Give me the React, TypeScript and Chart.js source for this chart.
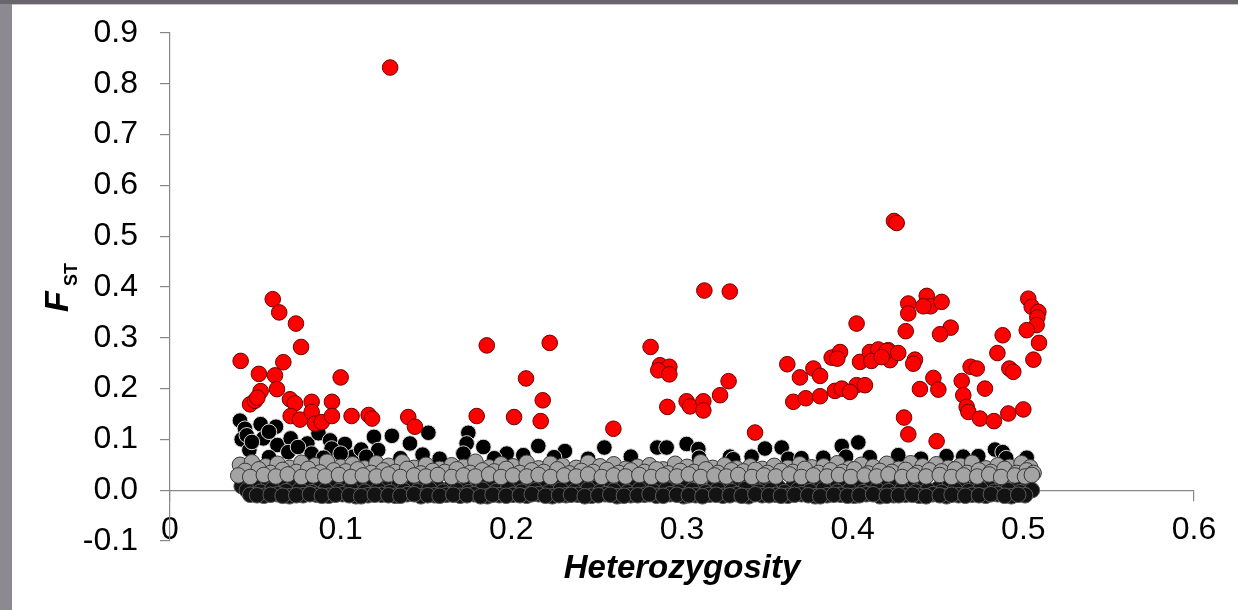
import React, { useEffect, useRef } from "react";
import { Chart, registerables } from "chart.js";

Chart.register(...registerables);

// ---------- data (heterozygosity, FST) ----------
const xTickValues = [0, 0.1, 0.2, 0.3, 0.4, 0.5, 0.6];
const yMin = -0.1;
const yMax = 0.9;
const xTitle = "Heterozygosity";
const yTitleMain = "F";
const yTitleSub = "ST";

// outlier loci (red)
const redPoints: [number, number][] = [
  [0.129, 0.832],
  [0.0602, 0.376], [0.064, 0.35], [0.0738, 0.328], [0.0768, 0.282], [0.0414, 0.2545], [0.0664, 0.252],
  [0.0521, 0.229], [0.0615, 0.226], [0.1, 0.222], [0.0531, 0.195], [0.0627, 0.199], [0.0469, 0.169],
  [0.0498, 0.176], [0.0512, 0.182], [0.0703, 0.179], [0.0732, 0.171], [0.083, 0.174], [0.0949, 0.174],
  [0.0707, 0.146], [0.0762, 0.139], [0.083, 0.154], [0.085, 0.131], [0.0889, 0.134], [0.0949, 0.146],
  [0.1064, 0.146], [0.1164, 0.148], [0.1184, 0.141], [0.1396, 0.144], [0.1435, 0.125],
  [0.1856, 0.285], [0.2225, 0.29], [0.2086, 0.22], [0.2184, 0.177], [0.1797, 0.146], [0.2016, 0.144],
  [0.2172, 0.136], [0.2598, 0.121],
  [0.2816, 0.282], [0.2871, 0.246], [0.2926, 0.243], [0.2861, 0.236], [0.2926, 0.228], [0.3273, 0.2146],
  [0.3223, 0.187], [0.2914, 0.164], [0.3027, 0.175], [0.3047, 0.165], [0.3125, 0.175], [0.3125, 0.157],
  [0.3428, 0.1135],
  [0.3131, 0.393], [0.328, 0.391], [0.4023, 0.328],
  [0.3617, 0.248], [0.377, 0.2395], [0.3809, 0.225], [0.3691, 0.222], [0.3652, 0.174], [0.3725, 0.181],
  [0.3809, 0.185], [0.3877, 0.261], [0.3926, 0.272], [0.391, 0.259], [0.3896, 0.1955], [0.3936, 0.2],
  [0.4023, 0.2067], [0.4072, 0.2067], [0.3984, 0.1935], [0.4043, 0.2526], [0.4111, 0.256], [0.416, 0.272],
  [0.4209, 0.2756], [0.4219, 0.256],
  [0.4242, 0.53], [0.4258, 0.526],
  [0.4326, 0.3675], [0.4326, 0.348], [0.4434, 0.3825], [0.4457, 0.362], [0.4521, 0.3707], [0.4414, 0.362],
  [0.4311, 0.313], [0.4574, 0.32], [0.4512, 0.307],
  [0.5029, 0.377], [0.5049, 0.361], [0.5088, 0.351], [0.5082, 0.34], [0.5078, 0.325], [0.502, 0.315],
  [0.4879, 0.305], [0.5092, 0.29], [0.4848, 0.27], [0.5059, 0.257], [0.4691, 0.243], [0.4727, 0.2395],
  [0.4918, 0.2395], [0.4941, 0.233],
  [0.4101, 0.272], [0.415, 0.277], [0.42, 0.274], [0.4267, 0.27], [0.411, 0.2545], [0.417, 0.262],
  [0.4365, 0.257], [0.4355, 0.249], [0.4473, 0.221], [0.4639, 0.215],
  [0.4301, 0.143], [0.4326, 0.11], [0.4492, 0.0965], [0.4394, 0.199], [0.4502, 0.198], [0.4648, 0.187],
  [0.4668, 0.164], [0.4678, 0.154], [0.4746, 0.141], [0.4828, 0.136], [0.4912, 0.151], [0.5, 0.159],
  [0.4775, 0.2],
];

// loci above the neutral cloud (black)
const blackPoints: [number, number][] = [
  [0.041, 0.137], [0.0439, 0.121], [0.0531, 0.13], [0.0621, 0.125], [0.042, 0.1], [0.0547, 0.102],
  [0.0629, 0.089], [0.0707, 0.102], [0.0805, 0.092], [0.087, 0.112], [0.0938, 0.098], [0.1025, 0.091],
  [0.1195, 0.105], [0.13, 0.107], [0.122, 0.079], [0.1406, 0.092], [0.1514, 0.113], [0.0465, 0.079],
  [0.0693, 0.075], [0.0947, 0.082], [0.158, 0.062], [0.1074, 0.066], [0.045, 0.108], [0.1748, 0.113],
  [0.1738, 0.092], [0.1836, 0.085], [0.1973, 0.072], [0.1719, 0.072], [0.048, 0.095], [0.058, 0.115],
  [0.075, 0.085], [0.083, 0.072], [0.1, 0.072], [0.112, 0.08],
  [0.2158, 0.087], [0.2314, 0.077], [0.2545, 0.084], [0.2855, 0.084], [0.291, 0.084], [0.3027, 0.091],
  [0.3096, 0.081], [0.3281, 0.066], [0.3408, 0.066], [0.207, 0.069],
  [0.3486, 0.082], [0.3584, 0.084], [0.3623, 0.062], [0.3828, 0.064], [0.3936, 0.087], [0.4033, 0.094],
  [0.3961, 0.066], [0.4267, 0.069], [0.4736, 0.067], [0.4834, 0.08], [0.4879, 0.075], [0.502, 0.064],
  [0.4648, 0.066],
  [0.058, 0.065], [0.09, 0.064], [0.115, 0.066], [0.135, 0.063], [0.148, 0.07], [0.19, 0.063],
  [0.225, 0.065], [0.245, 0.062], [0.27, 0.066], [0.31, 0.064], [0.33, 0.061], [0.37, 0.063],
  [0.41, 0.065], [0.44, 0.062], [0.455, 0.067], [0.49, 0.063],
];

// neutral loci (grey)
const grayPoints: [number, number][] = [
  [0.041, 0.05], [0.048, 0.055], [0.056, 0.047], [0.063, 0.052], [0.07, 0.044], [0.077, 0.054],
  [0.085, 0.049], [0.092, 0.056], [0.1, 0.046], [0.107, 0.051], [0.114, 0.043], [0.121, 0.053],
  [0.128, 0.048], [0.136, 0.055], [0.143, 0.044], [0.15, 0.05], [0.158, 0.042], [0.165, 0.049],
  [0.172, 0.046], [0.179, 0.056], [0.187, 0.045], [0.194, 0.051], [0.201, 0.047], [0.209, 0.054],
  [0.216, 0.043], [0.223, 0.052], [0.23, 0.048], [0.238, 0.044], [0.245, 0.054], [0.252, 0.047],
  [0.26, 0.051], [0.267, 0.042], [0.274, 0.046], [0.281, 0.049], [0.289, 0.041], [0.296, 0.052],
  [0.303, 0.046], [0.311, 0.055], [0.318, 0.044], [0.325, 0.049], [0.332, 0.043], [0.34, 0.047],
  [0.347, 0.042], [0.354, 0.048], [0.362, 0.044], [0.369, 0.051], [0.376, 0.045], [0.383, 0.047],
  [0.391, 0.053], [0.398, 0.043], [0.405, 0.05], [0.412, 0.046], [0.42, 0.052], [0.427, 0.042],
  [0.434, 0.053], [0.441, 0.047], [0.449, 0.051], [0.456, 0.044], [0.463, 0.048], [0.47, 0.054],
  [0.478, 0.043], [0.485, 0.049], [0.492, 0.046], [0.499, 0.053], [0.504, 0.045],
  [0.044, 0.038], [0.052, 0.041], [0.059, 0.034], [0.066, 0.04], [0.074, 0.036], [0.081, 0.042],
  [0.088, 0.035], [0.096, 0.039], [0.103, 0.037], [0.11, 0.041], [0.118, 0.034], [0.125, 0.039],
  [0.132, 0.036], [0.139, 0.042], [0.147, 0.033], [0.154, 0.038], [0.161, 0.036], [0.168, 0.041],
  [0.176, 0.034], [0.183, 0.039], [0.19, 0.037], [0.197, 0.042], [0.205, 0.034], [0.212, 0.039],
  [0.219, 0.036], [0.227, 0.041], [0.234, 0.033], [0.241, 0.038], [0.248, 0.036], [0.256, 0.04],
  [0.263, 0.034], [0.27, 0.039], [0.278, 0.036], [0.285, 0.041], [0.292, 0.033], [0.299, 0.038],
  [0.307, 0.036], [0.314, 0.041], [0.321, 0.034], [0.329, 0.039], [0.336, 0.037], [0.343, 0.04],
  [0.35, 0.034], [0.358, 0.038], [0.365, 0.036], [0.372, 0.042], [0.38, 0.034], [0.387, 0.039],
  [0.394, 0.036], [0.401, 0.041], [0.409, 0.033], [0.416, 0.038], [0.423, 0.036], [0.431, 0.04],
  [0.438, 0.034], [0.445, 0.039], [0.452, 0.037], [0.46, 0.041], [0.467, 0.034], [0.474, 0.039],
  [0.481, 0.036], [0.489, 0.042], [0.496, 0.034], [0.502, 0.039], [0.506, 0.034],
  [0.04, 0.029], [0.047, 0.026], [0.055, 0.03], [0.062, 0.027], [0.069, 0.031], [0.077, 0.026],
  [0.084, 0.029], [0.091, 0.027], [0.099, 0.03], [0.106, 0.026], [0.113, 0.029], [0.121, 0.027],
  [0.128, 0.031], [0.135, 0.026], [0.143, 0.029], [0.15, 0.027], [0.157, 0.03], [0.165, 0.026],
  [0.172, 0.029], [0.179, 0.027], [0.187, 0.031], [0.194, 0.026], [0.201, 0.029], [0.209, 0.027],
  [0.216, 0.03], [0.223, 0.026], [0.231, 0.029], [0.238, 0.027], [0.245, 0.031], [0.253, 0.026],
  [0.26, 0.029], [0.267, 0.027], [0.275, 0.03], [0.282, 0.026], [0.289, 0.029], [0.297, 0.027],
  [0.304, 0.031], [0.311, 0.026], [0.319, 0.029], [0.326, 0.027], [0.333, 0.03], [0.341, 0.026],
  [0.348, 0.029], [0.355, 0.027], [0.363, 0.031], [0.37, 0.026], [0.377, 0.029], [0.385, 0.027],
  [0.392, 0.03], [0.399, 0.026], [0.407, 0.029], [0.414, 0.027], [0.421, 0.031], [0.429, 0.026],
  [0.436, 0.029], [0.443, 0.027], [0.451, 0.03], [0.458, 0.026], [0.465, 0.029], [0.473, 0.027],
  [0.48, 0.031], [0.487, 0.026], [0.495, 0.029], [0.501, 0.027], [0.505, 0.03],
];

// dense cloud of loci at FST ~ 0 (heavily overlapping, appears dark)
const lowX = [
  0.042, 0.05, 0.058, 0.065, 0.073, 0.081, 0.088, 0.096, 0.104, 0.111, 0.119, 0.127, 0.134, 0.142, 0.15,
  0.157, 0.165, 0.173, 0.181, 0.188, 0.196, 0.204, 0.211, 0.219, 0.227, 0.234, 0.242, 0.25, 0.257, 0.265,
  0.273, 0.28, 0.288, 0.296, 0.303, 0.311, 0.319, 0.327, 0.334, 0.342, 0.35, 0.357, 0.365, 0.373, 0.38,
  0.388, 0.396, 0.403, 0.411, 0.419, 0.426, 0.434, 0.442, 0.45, 0.457, 0.465, 0.473, 0.48, 0.488, 0.496,
  0.503,
  0.045, 0.053, 0.06, 0.068, 0.076, 0.083, 0.091, 0.099, 0.106, 0.114, 0.122, 0.129, 0.137, 0.145, 0.152,
  0.16, 0.168, 0.175, 0.183, 0.191, 0.198, 0.206, 0.214, 0.222, 0.229, 0.237, 0.245, 0.252, 0.26, 0.268,
  0.275, 0.283, 0.291, 0.298, 0.306, 0.314, 0.321, 0.329, 0.337, 0.345, 0.352, 0.36, 0.368, 0.375, 0.383,
  0.391, 0.398, 0.406, 0.414, 0.421, 0.429, 0.437, 0.444, 0.452, 0.46, 0.468, 0.475, 0.483, 0.491, 0.498,
  0.505,
  0.047, 0.055, 0.063, 0.07, 0.078, 0.086, 0.093, 0.101, 0.109, 0.116, 0.124, 0.132, 0.139, 0.147, 0.155,
  0.162, 0.17, 0.178, 0.186, 0.193, 0.201, 0.209, 0.216, 0.224, 0.232, 0.239, 0.247, 0.255, 0.262, 0.27,
  0.278, 0.285, 0.293, 0.301, 0.308, 0.316, 0.324, 0.332, 0.339, 0.347, 0.355, 0.362, 0.37, 0.378, 0.385,
  0.393, 0.401, 0.408, 0.416, 0.424, 0.431, 0.439, 0.447, 0.455, 0.462, 0.47, 0.478, 0.485, 0.493, 0.501,
  0.051, 0.059, 0.066, 0.074, 0.082, 0.089, 0.097, 0.105, 0.112, 0.12, 0.128, 0.135, 0.143, 0.151, 0.158,
  0.166, 0.174, 0.182, 0.189, 0.197, 0.205, 0.212, 0.22, 0.228, 0.235, 0.243, 0.251, 0.258, 0.266, 0.274,
  0.281, 0.289, 0.297, 0.304, 0.312, 0.32, 0.328, 0.335, 0.343, 0.351, 0.358, 0.366, 0.374, 0.381, 0.389,
  0.397, 0.404, 0.412, 0.42, 0.427, 0.435, 0.443, 0.451, 0.458, 0.466, 0.474, 0.481, 0.489, 0.497,
];
const lowY = [
  0.008, 0.005, 0.01, 0.006, 0.009, 0.004, 0.007, 0.005, 0.011, 0.006, 0.008, 0.004, 0.009, 0.006, 0.01,
  0.005, 0.008, 0.003, 0.009, 0.006, 0.01, 0.005, 0.007, 0.004, 0.008, 0.006, 0.011, 0.005, 0.009, 0.004,
  0.007, 0.006, 0.01, 0.005, 0.008, 0.003, 0.009, 0.006, 0.011, 0.005, 0.008, 0.004, 0.007, 0.006, 0.01,
  0.005, 0.009, 0.004, 0.008, 0.006, 0.01, 0.005, 0.007, 0.003, 0.009, 0.006, 0.011, 0.005, 0.008, 0.004,
  0.007,
  0.0, -0.003, 0.002, -0.002, 0.001, -0.004, 0.0, -0.002, 0.002, -0.003, 0.001, -0.004, -0.001, -0.002,
  0.002, -0.003, 0.0, -0.004, 0.001, -0.002, 0.002, -0.003, 0.0, -0.004, 0.001, -0.002, 0.002, -0.003,
  -0.001, -0.004, 0.001, -0.002, 0.002, -0.003, 0.0, -0.004, 0.001, -0.002, 0.002, -0.003, 0.0, -0.004,
  0.001, -0.002, 0.002, -0.003, -0.001, -0.004, 0.001, -0.002, 0.002, -0.003, 0.0, -0.004, 0.001, -0.002,
  0.002, -0.003, 0.0, -0.004, 0.0,
  -0.009, -0.011, -0.008, -0.012, -0.01, -0.009, -0.011, -0.008, -0.012, -0.01, -0.009, -0.011, -0.008,
  -0.012, -0.01, -0.009, -0.011, -0.008, -0.012, -0.01, -0.009, -0.011, -0.008, -0.012, -0.01, -0.009,
  -0.011, -0.008, -0.012, -0.01, -0.009, -0.011, -0.008, -0.012, -0.01, -0.009, -0.011, -0.008, -0.012,
  -0.01, -0.009, -0.011, -0.008, -0.012, -0.01, -0.009, -0.011, -0.008, -0.012, -0.01, -0.009, -0.011,
  -0.008, -0.012, -0.01, -0.009, -0.011, -0.008, -0.012, -0.01,
  -0.01, -0.009, -0.011, -0.01, -0.008, -0.011, -0.009, -0.01, -0.012, -0.009, -0.01, -0.011, -0.008,
  -0.01, -0.011, -0.009, -0.01, -0.012, -0.009, -0.011, -0.01, -0.008, -0.011, -0.01, -0.009, -0.012,
  -0.01, -0.009, -0.011, -0.01, -0.008, -0.011, -0.009, -0.01, -0.012, -0.009, -0.01, -0.011, -0.008,
  -0.01, -0.011, -0.009, -0.01, -0.012, -0.009, -0.011, -0.01, -0.008, -0.011, -0.01, -0.009, -0.012,
  -0.01, -0.009, -0.011, -0.01, -0.008, -0.011, -0.009,
];

const FONT = '"Liberation Sans", Arial, sans-serif';
const AXIS_COLOR = "#878787";

const toPts = (a: [number, number][]) => a.map(([x, y]) => ({ x, y }));
const zipPts = (xs: number[], ys: number[]) =>
  xs.slice(0, Math.min(xs.length, ys.length)).map((x, i) => ({ x, y: ys[i] }));

const titlePlugin = {
  id: "titles",
  afterDraw(chart: any) {
    const { ctx, chartArea } = chart;
    ctx.save();
    ctx.fillStyle = "#000";
    ctx.font = `italic bold 33px ${FONT}`;
    ctx.textAlign = "center";
    ctx.textBaseline = "alphabetic";
    ctx.fillText(xTitle, (chartArea.left + chartArea.right) / 2, 578);
    ctx.translate(68, 312);
    ctx.rotate(-Math.PI / 2);
    ctx.textAlign = "left";
    ctx.font = `italic bold 34px ${FONT}`;
    ctx.fillText(yTitleMain, 0, 0);
    ctx.font = `bold 18px ${FONT}`;
    ctx.fillText(yTitleSub, 26, 9);
    ctx.restore();
  },
};

export default function App() {
  const ref = useRef<HTMLCanvasElement>(null);

  useEffect(() => {
    if (!ref.current) return;
    const common = { borderWidth: 1, pointRadius: 7.8 };
    const chart = new Chart(ref.current, {
      type: "scatter",
      data: {
        datasets: [
          {
            label: "Outlier",
            data: toPts(redPoints),
            backgroundColor: "#ff0000",
            borderColor: "#6e0000",
            order: 0,
            ...common,
          },
          {
            label: "Neutral",
            data: toPts(grayPoints),
            backgroundColor: "#a4a4a4",
            borderColor: "#363636",
            order: 1,
            ...common,
          },
          {
            label: "Neutral (FST~0)",
            data: zipPts(lowX, lowY),
            backgroundColor: "#131313",
            borderColor: "#5c5c5c",
            order: 2,
            ...common,
          },
          {
            label: "Upper",
            data: toPts(blackPoints),
            backgroundColor: "#000000",
            borderColor: "#dcdcdc",
            order: 3,
            ...common,
          },
        ],
      },
      options: {
        animation: false,
        responsive: false,
        events: [],
        layout: { padding: { left: 0, top: 33, right: 44, bottom: 69 } },
        plugins: { legend: { display: false }, tooltip: { enabled: false } },
        scales: {
          x: {
            type: "linear",
            position: { y: 0 } as any,
            min: xTickValues[0],
            max: xTickValues[xTickValues.length - 1],
            afterBuildTicks: (s: any) => {
              s.ticks = xTickValues.map((v) => ({ value: v }));
            },
            afterFit: (s: any) => {
              s.paddingLeft = 0;
              s.paddingRight = 0;
            },
            ticks: {
              padding: 11,
              color: "#000",
              font: { family: FONT, size: 32 },
              maxRotation: 0,
              autoSkip: false,
              callback: (v: any) => (Number(v) === 0 ? "0" : Number(v).toFixed(1)),
            },
            grid: {
              display: true,
              drawOnChartArea: false,
              drawTicks: true,
              tickLength: 10,
              color: AXIS_COLOR,
              tickColor: AXIS_COLOR,
              lineWidth: 1.2,
            },
            border: { display: true, color: AXIS_COLOR, width: 1.2 },
          },
          y: {
            type: "linear",
            position: "left",
            min: yMin,
            max: yMax,
            afterFit: (s: any) => {
              s.width = 170;
              s.paddingTop = 0;
              s.paddingBottom = 0;
            },
            ticks: {
              stepSize: 0.1,
              padding: 22,
              color: "#000",
              font: { family: FONT, size: 32 },
              callback: (v: any) => Number(v).toFixed(1),
            },
            grid: {
              drawOnChartArea: false,
              color: AXIS_COLOR,
              tickColor: AXIS_COLOR,
              tickLength: 10,
              lineWidth: 1.2,
            },
            border: { display: true, color: AXIS_COLOR, width: 1.2 },
          },
        },
      },
      plugins: [titlePlugin],
    });
    return () => chart.destroy();
  }, []);

  return (
    <div
      style={{
        position: "absolute",
        left: 0,
        top: 0,
        width: 1238,
        height: 610,
        background: "#8c8991",
        overflow: "hidden",
      }}
    >
      <div style={{ position: "absolute", left: 0, top: 0, width: 1238, height: 4, background: "#68656c" }} />
      <div style={{ position: "absolute", left: 12, top: 4, width: 1226, height: 1, background: "#c4c4c4" }} />
      <div style={{ position: "absolute", left: 12, top: 5, width: 1226, height: 605, background: "#ffffff" }} />
      <canvas
        ref={ref}
        width={1238}
        height={610}
        style={{ position: "absolute", left: 0, top: 0, width: 1238, height: 610, display: "block" }}
      />
    </div>
  );
}
